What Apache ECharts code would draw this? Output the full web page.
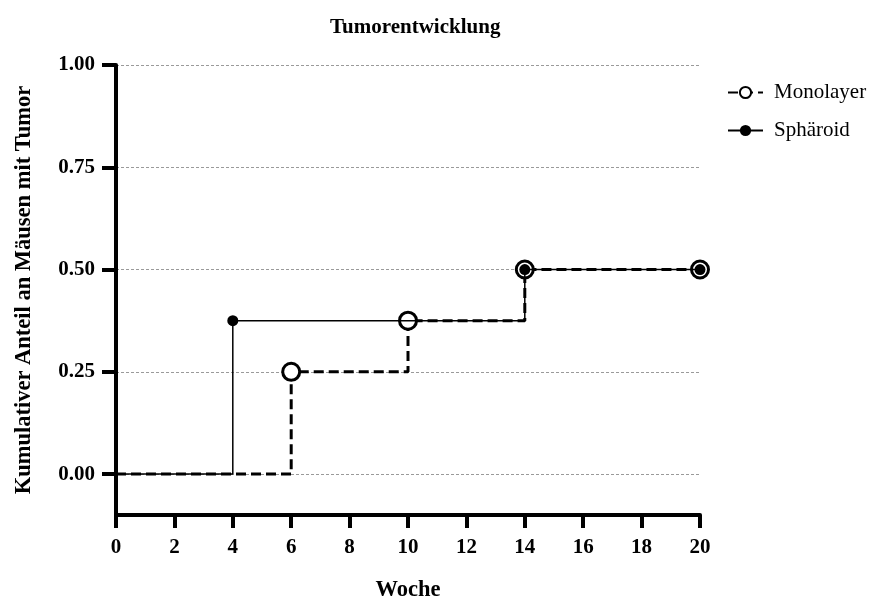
<!DOCTYPE html>
<html lang="de">
<head>
    <meta http-equiv="Content-Type" content="text/html; charset=UTF-8">
    <title>Tumorentwicklung</title>
    <script type="text/javascript" src="https://cdn.jsdelivr.net/npm/echarts@6/dist/echarts.min.js"></script>
</head>
<body style="margin: 0; width: 873px; height: 599px; background: #fff">
<div id="main" style="width: 873px; height: 599px"></div>
<script type="text/javascript">
    // Wochen und kumulative Anteile (Schrittfunktion)
    var monoWeeks = [0, 6, 10, 14, 20];
    var monoValues = [0, 0.25, 0.375, 0.5, 0.5];
    var sphWeeks = [0, 4, 14, 20];
    var sphValues = [0, 0.375, 0.5, 0.5];
    var yTicks = [0, 0.25, 0.5, 0.75, 1];

    var font = 'Liberation Serif, Times New Roman, serif';

    function toPoints(weeks, values) {
        return weeks.map(function (w, i) {
            var p = { value: [w, values[i]] };
            if (i === 0) p.symbol = 'none';
            return p;
        });
    }

    var myChart = echarts.init(document.getElementById('main'));

    myChart.setOption({
        animation: false,
        title: {
            text: 'Tumorentwicklung',
            left: 325,
            top: 12,
            textStyle: { fontFamily: font, fontSize: 21, fontWeight: 'bold', color: '#000' }
        },
        legend: {
            orient: 'vertical',
            left: 722,
            top: 77,
            itemWidth: 35,
            itemHeight: 14,
            itemGap: 17,
            textStyle: { fontFamily: font, fontSize: 21, color: '#000', padding: [0, 0, 0, 6] },
            data: ['Monolayer', 'Sphäroid']
        },
        grid: { left: 116, right: 173, top: 65, bottom: 84, containLabel: false, outerBoundsMode: 'none' },
        xAxis: {
            type: 'value',
            min: 0,
            max: 20,
            interval: 2,
            name: 'Woche',
            nameLocation: 'middle',
            nameGap: 64,
            nameTextStyle: { fontFamily: font, fontSize: 22.5, fontWeight: 'bold', color: '#000' },
            axisLine: { onZero: false, lineStyle: { color: '#000', width: 4 } },
            axisTick: { length: 13, lineStyle: { color: '#000', width: 4 } },
            axisLabel: { margin: 22, fontFamily: font, fontSize: 21, fontWeight: 'bold', color: '#000' },
            splitLine: { show: false }
        },
        yAxis: {
            type: 'value',
            min: -0.1,
            max: 1,
            name: 'Kumulativer Anteil an Mäusen mit Tumor',
            nameLocation: 'middle',
            nameGap: 80,
            nameTextStyle: { fontFamily: font, fontSize: 22.5, fontWeight: 'bold', color: '#000' },
            axisLine: { show: true, lineStyle: { color: '#000', width: 4 } },
            axisTick: { show: true, length: 14, customValues: yTicks, lineStyle: { color: '#000', width: 4 } },
            axisLabel: {
                margin: 21,
                customValues: yTicks,
                fontFamily: font, fontSize: 21, fontWeight: 'bold', color: '#000',
                formatter: function (v) { return v.toFixed(2); }
            },
            splitLine: { show: true, lineStyle: { color: '#9a9a9a', width: 1, type: [3, 2] } }
        },
        series: [
            {
                name: 'Sphäroid',
                type: 'line',
                step: 'end',
                symbol: 'circle',
                symbolSize: 11,
                z: 3,
                itemStyle: { color: '#000' },
                lineStyle: { color: '#000', width: 1.5 },
                data: toPoints(sphWeeks, sphValues)
            },
            {
                name: 'Monolayer',
                type: 'line',
                step: 'end',
                symbol: 'circle',
                symbolSize: 17,
                z: 2,
                itemStyle: { color: '#fff', borderColor: '#000', borderWidth: 3 },
                lineStyle: { color: '#000', width: 3, type: [10, 5] },
                data: toPoints(monoWeeks, monoValues)
            }
        ]
    });
</script>
</body>
</html>
